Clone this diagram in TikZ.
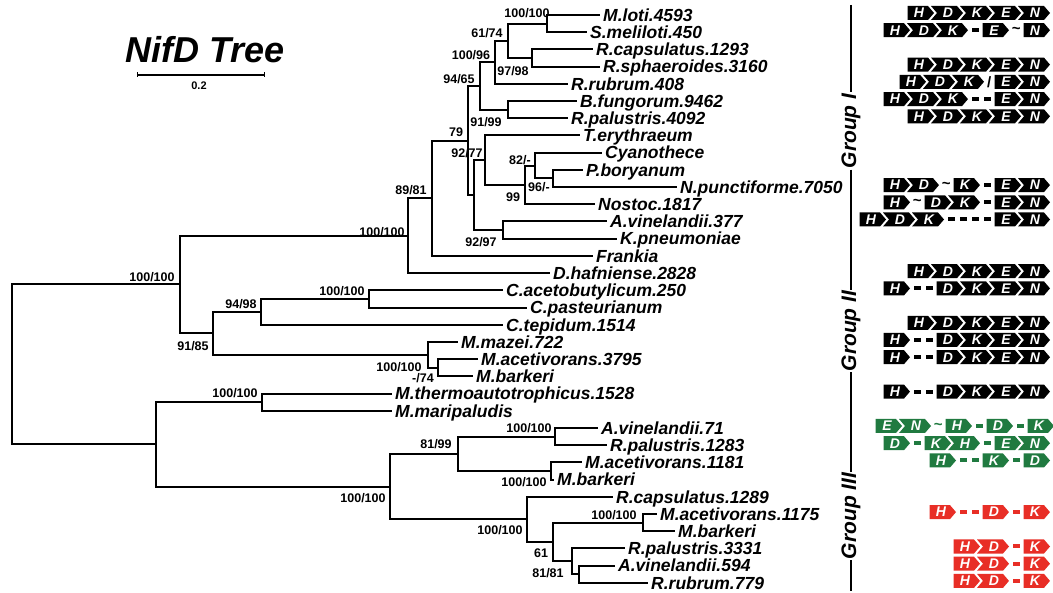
\documentclass[tikz,border=0pt]{standalone}
\usepackage{fontspec}
\setmainfont{Liberation Sans}
\definecolor{ggreen}{RGB}{32,122,64}
\definecolor{gred}{RGB}{232,46,38}
\newcommand\gx{0}\newcommand\gy{0}\newcommand\gcol{black}\newcommand\gprev{0}
\newcommand\genrow[3]{\xdef\gx{#1}\xdef\gy{#2}\xdef\gcol{#3}\xdef\gprev{0}}
\newcommand\gene[1]{%
 \ifnum\gprev=1
 \fill[\gcol] (\gx-5.5,\gy-7) -- (\gx+20.5,\gy-7) -- (\gx+26.5,\gy) -- (\gx+20.5,\gy+7) -- (\gx-5.5,\gy+7) -- (\gx+0.5,\gy) -- cycle;
 \else
 \fill[\gcol] (\gx,\gy-7) -- (\gx+20.5,\gy-7) -- (\gx+26.5,\gy) -- (\gx+20.5,\gy+7) -- (\gx,\gy+7) -- cycle;
 \fi
 \node[genetxt] at (\gx+11.5,\gy) {#1};
 \pgfmathsetmacro\tmpx{\gx+29}\xdef\gx{\tmpx}\xdef\gprev{1}}
\newcommand\gdash{\fill[\gcol] (\gx+1.5,\gy-2) rectangle (\gx+8,\gy+2);
 \pgfmathsetmacro\tmpx{\gx+12}\xdef\gx{\tmpx}\xdef\gprev{0}}
\newcommand\gtil{\node[gapt,text=\gcol] at (\gx+4.75,\gy) {\char"7E};
 \pgfmathsetmacro\tmpx{\gx+12}\xdef\gx{\tmpx}\xdef\gprev{0}}
\newcommand\gsl{\node[gapt,text=\gcol] at (\gx+2.75,\gy) {/};
 \pgfmathsetmacro\tmpx{\gx+8}\xdef\gx{\tmpx}\xdef\gprev{0}}
\tikzset{
 leaf/.style={font=\fontsize{17.5}{17.5}\selectfont\bfseries\itshape, anchor=west, inner xsep=3pt, inner ysep=0pt, text height=12.6pt, text depth=0pt},
 bs/.style={font=\fontsize{12.5}{12.5}\selectfont\bfseries, inner sep=0pt},
 genetxt/.style={font=\fontsize{14}{14}\selectfont\bfseries\itshape, text=white, inner sep=0pt},
 gapt/.style={font=\fontsize{15}{15}\selectfont\bfseries, inner sep=0pt},
 grp/.style={font=\fontsize{21}{21}\selectfont\bfseries\itshape, rotate=90, inner xsep=1pt, inner ysep=0pt},
 branch/.style={line width=2pt},
}
\begin{document}
\begin{tikzpicture}[x=1pt,y=-1pt]
\useasboundingbox (0,0) rectangle (1053,593);
% title and scale
\node[font=\fontsize{36}{36}\selectfont\bfseries\itshape, inner sep=0pt] (title) at (205,50) {NifD Tree};
\coordinate (s1) at (137,75); \coordinate (s2) at (264,75);
\draw[line width=1.4pt] (s1) -- (s2);
\draw[line width=1pt] (137,72.5) -- (137,77.5) (264,72.5) -- (264,77.5);
\node[font=\fontsize{11}{11}\selectfont\bfseries, inner sep=0pt] (sc) at (199,86) {0.2};
% leaves
\node[leaf] (l0) at (600,15.0) {M.loti.4593};
\node[leaf] (l1) at (587,32.2) {S.meliloti.450};
\node[leaf] (l2) at (593,49.4) {R.capsulatus.1293};
\node[leaf] (l3) at (600,66.6) {R.sphaeroides.3160};
\node[leaf] (l4) at (568,83.8) {R.rubrum.408};
\node[leaf] (l5) at (577,101.1) {B.fungorum.9462};
\node[leaf] (l6) at (568,118.3) {R.palustris.4092};
\node[leaf] (l7) at (580,135.5) {T.erythraeum};
\node[leaf] (l8) at (602,152.7) {Cyanothece};
\node[leaf] (l9) at (583,169.9) {P.boryanum};
\node[leaf] (l10) at (677,187.1) {N.punctiforme.7050};
\node[leaf] (l11) at (595,204.3) {Nostoc.1817};
\node[leaf] (l12) at (607,221.5) {A.vinelandii.377};
\node[leaf] (l13) at (617,238.7) {K.pneumoniae};
\node[leaf] (l14) at (593,255.9) {Frankia};
\node[leaf] (l15) at (550,273.2) {D.hafniense.2828};
\node[leaf] (l16) at (503,290.4) {C.acetobutylicum.250};
\node[leaf] (l17) at (527,307.6) {C.pasteurianum};
\node[leaf] (l18) at (503,324.8) {C.tepidum.1514};
\node[leaf] (l19) at (458,342.0) {M.mazei.722};
\node[leaf] (l20) at (478,359.2) {M.acetivorans.3795};
\node[leaf] (l21) at (473,376.4) {M.barkeri};
\node[leaf] (l22) at (392,393.6) {M.thermoautotrophicus.1528};
\node[leaf] (l23) at (392,410.8) {M.maripaludis};
\node[leaf] (l24) at (598,428.0) {A.vinelandii.71};
\node[leaf] (l25) at (607,445.2) {R.palustris.1283};
\node[leaf] (l26) at (582,462.5) {M.acetivorans.1181};
\node[leaf] (l27) at (554,479.7) {M.barkeri};
\node[leaf] (l28) at (613,496.9) {R.capsulatus.1289};
\node[leaf] (l29) at (657,514.1) {M.acetivorans.1175};
\node[leaf] (l30) at (675,531.3) {M.barkeri};
\node[leaf] (l31) at (625,548.5) {R.palustris.3331};
\node[leaf] (l32) at (615,565.7) {A.vinelandii.594};
\node[leaf] (l33) at (648,582.9) {R.rubrum.779};
% internal nodes
\coordinate (nA1) at (547,23.6);
\coordinate (nA2) at (532,58.0);
\coordinate (nA) at (508,40.8);
\coordinate (nB) at (495,62.3);
\coordinate (nC) at (508,109.7);
\coordinate (nD) at (480,86.0);
\coordinate (nE) at (553,178.5);
\coordinate (nF) at (535,165.6);
\coordinate (nG) at (525,185.0);
\coordinate (nH) at (485,160.2);
\coordinate (nI) at (503,230.1);
\coordinate (nJ) at (474,195.2);
\coordinate (nK) at (468,140.6);
\coordinate (nL) at (432,198.2);
\coordinate (nM) at (408,235.7);
\coordinate (nQ) at (369,299.0);
\coordinate (nP) at (261,311.9);
\coordinate (nR) at (438,367.8);
\coordinate (nS) at (428,354.9);
\coordinate (nO) at (213,333.4);
\coordinate (nN) at (180,284.5);
\coordinate (nT) at (262,402.2);
\coordinate (nX) at (555,436.6);
\coordinate (nY) at (551,471.1);
\coordinate (nW) at (458,453.8);
\coordinate (nBB) at (643,522.7);
\coordinate (nDD) at (579,574.3);
\coordinate (nCC) at (572,561.4);
\coordinate (nAA) at (553,542.0);
\coordinate (nZ) at (527,519.5);
\coordinate (nV) at (390,486.6);
\coordinate (nU) at (156,444.4);
\coordinate (root) at (12,364.5);
% branches
\begin{scope}[branch]
\draw (nA1) |- (l0.west) (nA1) |- (l1.west);
\draw (nA2) |- (l2.west) (nA2) |- (l3.west);
\draw (nA) |- (nA1) (nA) |- (nA2);
\draw (nB) |- (nA) (nB) |- (l4.west);
\draw (nC) |- (l5.west) (nC) |- (l6.west);
\draw (nD) |- (nB) (nD) |- (nC);
\draw (nE) |- (l9.west) (nE) |- (l10.west);
\draw (nF) |- (l8.west) (nF) |- (nE);
\draw (nG) |- (nF) (nG) |- (l11.west);
\draw (nH) |- (l7.west) (nH) |- (nG);
\draw (nI) |- (l12.west) (nI) |- (l13.west);
\draw (nJ) |- (nH) (nJ) |- (nI);
\draw (nK) |- (nD) (nK) |- (nJ);
\draw (nL) |- (nK) (nL) |- (l14.west);
\draw (nM) |- (nL) (nM) |- (l15.west);
\draw (nQ) |- (l16.west) (nQ) |- (l17.west);
\draw (nP) |- (nQ) (nP) |- (l18.west);
\draw (nR) |- (l20.west) (nR) |- (l21.west);
\draw (nS) |- (l19.west) (nS) |- (nR);
\draw (nO) |- (nP) (nO) |- (nS);
\draw (nN) |- (nM) (nN) |- (nO);
\draw (nT) |- (l22.west) (nT) |- (l23.west);
\draw (nX) |- (l24.west) (nX) |- (l25.west);
\draw (nY) |- (l26.west) (nY) |- (l27.west);
\draw (nW) |- (nX) (nW) |- (nY);
\draw (nBB) |- (l29.west) (nBB) |- (l30.west);
\draw (nDD) |- (l32.west) (nDD) |- (l33.west);
\draw (nCC) |- (l31.west) (nCC) |- (nDD);
\draw (nAA) |- (nBB) (nAA) |- (nCC);
\draw (nZ) |- (l28.west) (nZ) |- (nAA);
\draw (nV) |- (nW) (nV) |- (nZ);
\draw (nU) |- (nT) (nU) |- (nV);
\draw (root) |- (nN) (root) |- (nU);
\end{scope}
% bootstrap labels
\node[bs] (bA1) at (527,13) {100/100};
\node[bs] (bA) at (487,33) {61/74};
\node[bs] (bB) at (471,55) {100/96};
\node[bs] (bA2) at (513,71) {97/98};
\node[bs] (bD) at (459,79) {94/65};
\node[bs] (bC) at (486,122) {91/99};
\node[bs] (bK) at (456,132) {79};
\node[bs] (bJ) at (467,153) {92/77};
\node[bs] (bF) at (520,160) {82/-};
\node[bs] (bE) at (539,187) {96/-};
\node[bs] (bG) at (513,197) {99};
\node[bs] (bL) at (411,190) {89/81};
\node[bs] (bI) at (481,242) {92/97};
\node[bs] (bM) at (382,232) {100/100};
\node[bs] (broot) at (152,277) {100/100};
\node[bs] (bQ) at (342,291) {100/100};
\node[bs] (bP) at (241,304) {94/98};
\node[bs] (bO) at (193,346) {91/85};
\node[bs] (bS) at (399,367) {100/100};
\node[bs] (bR) at (423,378) {-/74};
\node[bs] (bT) at (235,393) {100/100};
\node[bs] (bW) at (436,444) {81/99};
\node[bs] (bX) at (529,428) {100/100};
\node[bs] (bY) at (524,482) {100/100};
\node[bs] (bV) at (363,498) {100/100};
\node[bs] (bZ) at (500,530) {100/100};
\node[bs] (bBB) at (614,515) {100/100};
\node[bs] (bCC) at (541,553) {61};
\node[bs] (bDD) at (548,573) {81/81};
% group bar
\node[grp] (g1) at (851,131) {Group I};
\node[grp] (g2) at (851,331) {Group II};
\node[grp] (g3) at (851,516) {Group III};
\coordinate (gt) at (851,5); \coordinate (gb) at (851,591);
\draw[line width=2.6pt] (gt) -- (g1.east) (g1.west) -- (g2.east) (g2.west) -- (g3.east) (g3.west) -- (gb);
% gene maps
\genrow{907.5}{13}{black}\gene{H}\gene{D}\gene{K}\gene{E}\gene{N}
\genrow{883.5}{30.2}{black}\gene{H}\gene{D}\gene{K}\gdash\gene{E}\gtil\gene{N}
\genrow{907.5}{64.6}{black}\gene{H}\gene{D}\gene{K}\gene{E}\gene{N}
\genrow{899.5}{81.8}{black}\gene{H}\gene{D}\gene{K}\gsl\gene{E}\gene{N}
\genrow{883.5}{99.1}{black}\gene{H}\gene{D}\gene{K}\gdash\gdash\gene{E}\gene{N}
\genrow{907.5}{116.3}{black}\gene{H}\gene{D}\gene{K}\gene{E}\gene{N}
\genrow{883.5}{185.1}{black}\gene{H}\gene{D}\gtil\gene{K}\gdash\gene{E}\gene{N}
\genrow{883.5}{202.3}{black}\gene{H}\gtil\gene{D}\gene{K}\gdash\gene{E}\gene{N}
\genrow{859.5}{219.5}{black}\gene{H}\gene{D}\gene{K}\gdash\gdash\gdash\gdash\gene{E}\gene{N}
\genrow{907.5}{271.2}{black}\gene{H}\gene{D}\gene{K}\gene{E}\gene{N}
\genrow{883.5}{288.4}{black}\gene{H}\gdash\gdash\gene{D}\gene{K}\gene{E}\gene{N}
\genrow{907.5}{322.8}{black}\gene{H}\gene{D}\gene{K}\gene{E}\gene{N}
\genrow{883.5}{340}{black}\gene{H}\gdash\gdash\gene{D}\gene{K}\gene{E}\gene{N}
\genrow{883.5}{357.2}{black}\gene{H}\gdash\gdash\gene{D}\gene{K}\gene{E}\gene{N}
\genrow{883.5}{391.6}{black}\gene{H}\gdash\gdash\gene{D}\gene{K}\gene{E}\gene{N}
\genrow{875.5}{426}{ggreen}\gene{E}\gene{N}\gtil\gene{H}\gdash\gene{D}\gdash\gene{K}
\genrow{883.5}{443.2}{ggreen}\gene{D}\gdash\gene{K}\gene{H}\gdash\gene{E}\gene{N}
\genrow{929.5}{460.5}{ggreen}\gene{H}\gdash\gdash\gene{K}\gdash\gene{D}
\genrow{929.5}{512.1}{gred}\gene{H}\gdash\gdash\gene{D}\gdash\gene{K}
\genrow{953.5}{546.5}{gred}\gene{H}\gene{D}\gdash\gene{K}
\genrow{953.5}{563.7}{gred}\gene{H}\gene{D}\gdash\gene{K}
\genrow{953.5}{580.9}{gred}\gene{H}\gene{D}\gdash\gene{K}
\end{tikzpicture}
\end{document}
